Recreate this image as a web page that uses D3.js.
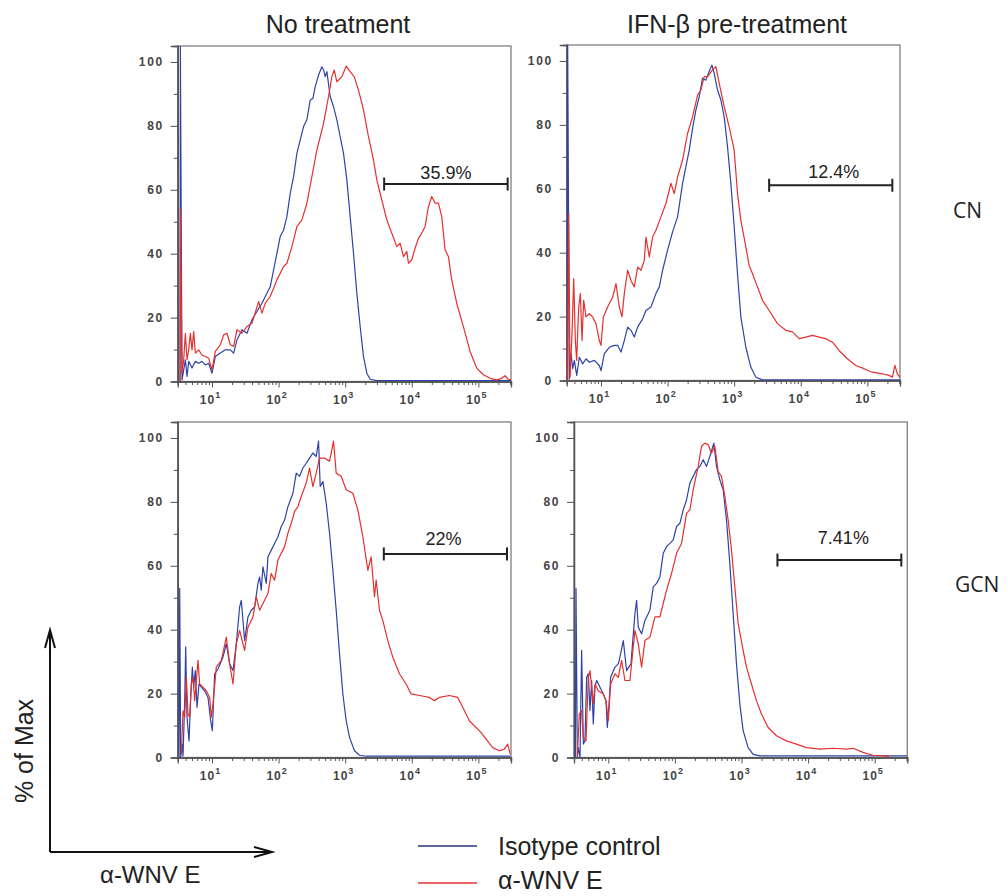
<!DOCTYPE html>
<html>
<head>
<meta charset="utf-8">
<script src="https://cdn.jsdelivr.net/npm/d3@7"></script>
<style>
  html, body { margin: 0; padding: 0; background: #fff; }
  svg { display: block; }
  text { font-family: "Liberation Sans", Arial, sans-serif; fill: #222; }
</style>
</head>
<body>
<svg id="chart" width="1008" height="896"></svg>
<script>
// ---------------- DATA ----------------
// Columns (treatments) and rows (cell types)
const columnTitles = ["No treatment", "IFN-β pre-treatment"];
const rowLabels = ["CN", "GCN"];
const seriesNames = ["Isotype control", "α-WNV E"];
const yTickValues = [0, 20, 40, 60, 80, 100];
const yMinorTickValues = [10, 30, 50, 70, 90];
const xDecadeExponents = [1, 2, 3, 4, 5];
const xExponentDomain = [0.485, 5.49];
const yDomain = [0, 105];

// Histogram traces: [log10(fluorescence), % of Max]
const cnNoTreatIsotype = [[0.52,0],[0.525,105],[0.55,0.5],[0.575,3.6],[0.6,6.8],[0.625,1.6],[0.65,6.3],[0.7,4.2],[0.75,6.3],[0.8,5.7],[0.85,6.3],[0.9,5.2],[0.95,5.7],[1.0,2.6],[1.05,7.8],[1.125,8.9],[1.2,9.9],[1.275,9.9],[1.325,8.9],[1.375,13],[1.45,16.2],[1.525,15.1],[1.6,19.3],[1.675,21.9],[1.75,24.5],[1.825,27.6],[1.875,29.7],[1.925,34.9],[1.975,40.1],[2.025,45.4],[2.075,47.4],[2.125,51.6],[2.175,58.9],[2.225,64.1],[2.275,71.4],[2.325,75.6],[2.375,79.8],[2.425,81.9],[2.475,88.1],[2.515,88.6],[2.55,92.3],[2.6,95.9],[2.65,98.5],[2.675,97.5],[2.7,95.4],[2.725,97],[2.775,89.2],[2.825,86],[2.875,81.9],[2.925,76.6],[2.975,71.4],[3.025,63.1],[3.075,51.6],[3.125,40.1],[3.175,27.6],[3.225,17.2],[3.275,7.8],[3.325,2.6],[3.375,0.7],[3.475,0.3],[5.49,0.3]];
const cnNoTreatWNV = [[0.52,0],[0.525,54],[0.55,2.6],[0.575,6.8],[0.6,15.1],[0.625,6.8],[0.65,9.9],[0.675,15.1],[0.7,9.9],[0.725,15.6],[0.75,8.9],[0.8,9.9],[0.85,8.3],[0.9,7.8],[0.95,7.3],[1.0,3.6],[1.05,9.4],[1.125,11.5],[1.175,14.6],[1.225,15.1],[1.275,11.5],[1.325,11],[1.375,16.2],[1.45,15.1],[1.525,17.2],[1.6,18.2],[1.7,25],[1.75,21.4],[1.8,24.5],[1.875,26.6],[1.975,31.8],[2.075,36],[2.125,37],[2.2,42.2],[2.275,48.5],[2.35,50.6],[2.425,55.8],[2.5,64.1],[2.575,72.5],[2.625,76.6],[2.675,80.8],[2.75,89.2],[2.8,95.4],[2.835,97.5],[2.875,93.8],[2.95,95.4],[3.015,98.7],[3.075,97],[3.135,95.4],[3.2,91.2],[3.275,85],[3.35,76.6],[3.425,69.3],[3.475,63.1],[3.55,56.8],[3.625,50.6],[3.7,46.4],[3.775,42.2],[3.825,43.3],[3.875,39.1],[3.925,40.7],[3.95,37],[4.0,38.1],[4.05,41.7],[4.1,44.8],[4.15,46.4],[4.2,48.5],[4.25,54.7],[4.3,57.9],[4.35,55.8],[4.4,55.8],[4.45,51.6],[4.5,41.2],[4.55,39.1],[4.6,31.8],[4.675,24.5],[4.775,17.2],[4.875,9.4],[4.975,4.2],[5.075,2.1],[5.175,1],[5.275,0.5],[5.35,1],[5.4,1.8],[5.45,0.7],[5.49,0.5]];
const cnIfnIsotype = [[0.49,0],[0.5,105],[0.525,0.5],[0.55,8.4],[0.575,3.7],[0.6,6.3],[0.635,1.6],[0.675,7.3],[0.725,5.2],[0.775,6.8],[0.825,5.7],[0.9,6.3],[0.975,4.7],[1,3.1],[1.05,8.4],[1.125,10.4],[1.2,11],[1.25,11],[1.3,8.9],[1.35,12.5],[1.4,16.7],[1.45,15.7],[1.5,13.6],[1.55,16.7],[1.625,19.3],[1.675,21.9],[1.75,23],[1.825,27.2],[1.875,29.3],[1.925,34.5],[2,40.8],[2.075,46.5],[2.15,51.2],[2.225,61.7],[2.275,66.9],[2.325,72.1],[2.375,78.9],[2.425,84.6],[2.475,88.8],[2.525,94.6],[2.575,94],[2.625,96.7],[2.665,98.7],[2.7,96.1],[2.75,90.9],[2.8,87.8],[2.85,82.5],[2.9,73.1],[2.95,61.7],[3,48.1],[3.05,33.4],[3.1,19.9],[3.175,10.4],[3.25,4.2],[3.325,1],[3.425,0.2],[5.49,0.2]];
const cnIfnWNV = [[0.5,0],[0.515,52.2],[0.535,1],[0.565,14.6],[0.59,31.9],[0.615,12.5],[0.635,6.3],[0.665,23],[0.69,27.2],[0.715,12.5],[0.74,25.1],[0.775,19.9],[0.825,20.9],[0.875,19.9],[0.925,17.8],[0.975,12.5],[1,11],[1.035,19.9],[1.1,23],[1.175,26.1],[1.225,30.3],[1.275,23],[1.315,19.9],[1.35,27.2],[1.4,34.5],[1.45,31.3],[1.5,29.3],[1.55,35.5],[1.6,34.5],[1.65,37.6],[1.675,44.9],[1.725,38.7],[1.775,44.9],[1.825,47],[1.9,51.2],[1.975,55.4],[2.05,61.7],[2.1,58.5],[2.15,63.7],[2.225,69],[2.3,77.3],[2.375,82.5],[2.45,89.3],[2.5,90.9],[2.55,95.1],[2.6,95.1],[2.675,97.2],[2.725,98.2],[2.775,93],[2.85,85.7],[2.925,79.4],[3,72.1],[3.05,58.5],[3.1,50.2],[3.175,41.8],[3.225,36],[3.275,33.4],[3.35,29.3],[3.425,25.1],[3.525,21.9],[3.65,17.8],[3.775,15.7],[3.875,15.2],[3.975,13.1],[4.075,13.6],[4.175,14.1],[4.275,13.6],[4.375,13.1],[4.475,12],[4.575,9.4],[4.7,6.8],[4.825,4.7],[4.95,3.7],[5.075,2.6],[5.225,2.1],[5.325,1.6],[5.375,1],[5.415,4.7],[5.45,2.1],[5.49,1]];
const gcnNoTreatIsotype = [[0.505,0],[0.515,52.9],[0.53,0],[0.55,4.2],[0.565,0.5],[0.59,17.8],[0.605,34.6],[0.625,12.6],[0.655,5.2],[0.68,18.8],[0.705,28.3],[0.725,22],[0.75,27.2],[0.775,15.7],[0.805,23],[0.84,22],[0.89,20.9],[0.94,18.8],[0.98,11.5],[1.005,8.4],[1.04,26.2],[1.09,27.7],[1.165,31.4],[1.215,35.6],[1.265,29.3],[1.315,27.2],[1.365,35.6],[1.415,47.1],[1.44,49.2],[1.49,36.6],[1.54,44],[1.59,46.1],[1.64,47.1],[1.69,54.5],[1.715,56.5],[1.74,52.4],[1.765,59.7],[1.815,54.5],[1.84,62.8],[1.89,64.9],[1.94,67],[1.99,69.1],[2.04,72.3],[2.09,74.3],[2.14,78.5],[2.215,82.7],[2.265,89],[2.315,88],[2.365,90.6],[2.415,92.1],[2.465,93.7],[2.515,95.3],[2.565,94.2],[2.6,99],[2.625,84.8],[2.665,86.4],[2.715,79.6],[2.765,70.2],[2.815,58.6],[2.865,46.1],[2.915,32.5],[2.965,19.9],[3.015,11.5],[3.065,6.3],[3.14,2.1],[3.215,0.7],[3.315,0.4],[5.48,0.4]];
const gcnNoTreatWNV = [[0.54,1],[0.565,14.7],[0.59,12.6],[0.615,25.1],[0.64,13.6],[0.665,12.6],[0.69,23],[0.715,25.1],[0.74,17.8],[0.765,24.1],[0.79,30.4],[0.815,23],[0.865,22],[0.915,20.9],[0.965,18.8],[0.99,12.6],[1.015,16.8],[1.065,28.3],[1.14,30.4],[1.215,37.7],[1.265,29.3],[1.315,23],[1.365,35.6],[1.415,39.8],[1.49,33.5],[1.54,40.8],[1.615,44],[1.665,50.3],[1.715,46.1],[1.765,48.2],[1.84,51.3],[1.89,57.6],[1.94,55.5],[1.99,61.8],[2.04,63.9],[2.09,66],[2.14,70.2],[2.19,73.3],[2.24,77],[2.29,78.5],[2.34,81.7],[2.415,85.9],[2.465,90.6],[2.515,84.8],[2.565,89],[2.615,93.7],[2.69,93.7],[2.765,92.7],[2.825,99],[2.865,89],[2.94,88],[3.015,83.8],[3.115,82.7],[3.19,77.5],[3.265,69.1],[3.34,58.6],[3.39,62.8],[3.44,50.3],[3.465,55.5],[3.515,46.1],[3.565,42.9],[3.64,36.6],[3.715,31.4],[3.815,26.2],[3.915,23],[3.99,19.9],[4.115,19.4],[4.265,18.8],[4.34,17.8],[4.415,18.8],[4.565,19.4],[4.69,18.8],[4.765,15.7],[4.865,11.5],[4.965,9.4],[5.015,8.4],[5.115,5.8],[5.215,3.1],[5.315,2.1],[5.39,2.6],[5.44,4.2],[5.48,1]];
const gcnIfnIsotype = [[0.505,0],[0.515,52.9],[0.535,0],[0.55,3.1],[0.575,0],[0.6,33.5],[0.625,4.2],[0.65,5.2],[0.675,25.1],[0.7,26.2],[0.725,14.7],[0.75,24.1],[0.775,10.5],[0.8,22],[0.825,24.1],[0.875,22],[0.925,19.9],[0.965,17.8],[0.985,9.4],[1.005,14.7],[1.035,25.1],[1.1,28.3],[1.15,29.3],[1.175,31.4],[1.225,36.6],[1.275,27.2],[1.34,29.3],[1.4,45],[1.425,49.2],[1.45,40.8],[1.5,38.7],[1.55,42.9],[1.625,46.1],[1.675,53.4],[1.725,54.5],[1.775,56.5],[1.825,63.9],[1.875,66],[1.925,67],[1.975,68.1],[2.025,72.3],[2.075,73.3],[2.125,77.5],[2.175,80.6],[2.225,85.9],[2.275,88],[2.325,90.1],[2.375,91.1],[2.425,93.2],[2.475,91.1],[2.525,94.2],[2.585,98.4],[2.625,91.1],[2.675,86.9],[2.725,83.8],[2.775,74.3],[2.825,60.7],[2.875,45],[2.925,29.3],[2.975,16.8],[3.025,8.4],[3.1,3.1],[3.175,1],[3.275,0.5],[5.49,0.5]];
const gcnIfnWNV = [[0.535,0.5],[0.565,13.6],[0.6,14.7],[0.625,6.3],[0.665,5.2],[0.7,25.1],[0.725,27.2],[0.75,22],[0.775,16.8],[0.8,23],[0.85,20.9],[0.925,19.9],[0.965,17.8],[1,11.5],[1.035,23],[1.1,26.2],[1.15,25.1],[1.2,30.4],[1.25,24.1],[1.325,24.1],[1.4,39.8],[1.45,35.6],[1.5,28.3],[1.55,36.6],[1.625,37.7],[1.7,44],[1.775,44],[1.825,48.2],[1.875,52.4],[1.95,57.6],[2.025,63.9],[2.1,67],[2.175,76.4],[2.225,77.5],[2.275,83.8],[2.35,91.1],[2.4,97.4],[2.45,98.4],[2.5,97.9],[2.55,95.3],[2.6,97.4],[2.65,89.5],[2.7,88],[2.75,81.7],[2.8,74.3],[2.85,64.9],[2.9,53.4],[2.95,41.9],[3.025,33.5],[3.075,28.3],[3.15,23],[3.225,17.8],[3.3,13.6],[3.4,9.4],[3.525,6.8],[3.675,5.2],[3.825,4.2],[3.975,3.1],[4.175,2.6],[4.375,2.9],[4.575,2.6],[4.675,2.9],[4.825,1.6],[4.975,0.7],[5.175,0.5],[5.225,0]];

// Gates: [start exponent, end exponent, level %] and percentages
const gateRanges = [[3.585, 5.44, 61.8], [3.525, 5.375, 61.1], [3.58, 5.43, 63.7], [3.54, 5.4, 61.8]];
const gateLabels = ["35.9%", "12.4%", "22%", "7.41%"];

// ---------------- LAYOUT ----------------
const panelW = 333.3, panelH = 335.5;
const panels = [
  { x: 177.7, y: 46,  iso: cnNoTreatIsotype,  wnv: cnNoTreatWNV,  gate: 0, ldx: 0,  ldy: 5 },
  { x: 566.7, y: 45,  iso: cnIfnIsotype,      wnv: cnIfnWNV,      gate: 1, ldx: 3,  ldy: 7 },
  { x: 177.7, y: 422, iso: gcnNoTreatIsotype, wnv: gcnNoTreatWNV, gate: 2, ldx: -2, ldy: 9 },
  { x: 574,   y: 422, iso: gcnIfnIsotype,     wnv: gcnIfnWNV,     gate: 3, ldx: 4,  ldy: 16 }
];
const blue = "#2e43a6", red = "#e5302e";

const svg = d3.select("#chart");
const x = d3.scaleLog().domain(xExponentDomain.map(e => Math.pow(10, e))).range([0, panelW]);
const y = d3.scaleLinear().domain(yDomain).range([panelH, 0]);

const line = d3.line()
  .x(d => x(Math.pow(10, d[0])))
  .y(d => y(d[1]));

const defs = svg.append("defs");
defs.append("clipPath").attr("id", "pclip")
  .append("rect").attr("x", 0).attr("y", 0).attr("width", panelW).attr("height", panelH);

// minor x ticks
const xMinor = [];
for (let e = 0; e <= 5; e++) for (let m = 2; m <= 9; m++) {
  const v = m * Math.pow(10, e);
  if (v >= x.domain()[0] && v <= x.domain()[1]) xMinor.push(v);
}
const xMajor = xDecadeExponents.map(e => Math.pow(10, e));

panels.forEach((p, i) => {
  const g = svg.append("g").attr("transform", `translate(${p.x},${p.y})`);

  // frame
  g.append("rect").attr("width", panelW).attr("height", panelH)
    .attr("fill", "none").attr("stroke", "#808080").attr("stroke-width", 1.3);

  // y axis
  const yMaj = g.append("g").call(d3.axisLeft(y).tickValues(yTickValues).tickSize(7).tickFormat(""));
  const yMin = g.append("g").call(d3.axisLeft(y).tickValues(yMinorTickValues).tickSize(4).tickFormat(""));
  [yMaj, yMin].forEach(a => { a.select(".domain").attr("stroke", "#555").attr("stroke-width", 1.3); a.selectAll(".tick line").attr("stroke", "#555"); });
  g.selectAll(".ylab").data(yTickValues).join("text")
    .attr("class", "ylab")
    .attr("x", -14).attr("y", d => y(d)).attr("dy", "0.36em")
    .attr("text-anchor", "end")
    .attr("font-size", 12).attr("font-weight", "bold").attr("letter-spacing", 1.6)
    .style("fill", "#444")
    .text(d => d);

  // x axis
  const xa = g.append("g").attr("transform", `translate(0,${panelH})`);
  const xMajAx = xa.append("g").call(d3.axisBottom(x).tickValues(xMajor).tickSize(6).tickFormat(""));
  const xMinAx = xa.append("g").call(d3.axisBottom(x).tickValues(xMinor).tickSize(3.5).tickFormat(""));
  [xMajAx, xMinAx].forEach(a => { a.select(".domain").attr("stroke", "#555").attr("stroke-width", 1.3); a.selectAll(".tick line").attr("stroke", "#555"); });
  const xl = xa.selectAll(".xlab").data(xDecadeExponents).join("text")
    .attr("class", "xlab")
    .attr("x", d => x(Math.pow(10, d)) - 2).attr("y", 22)
    .attr("text-anchor", "middle")
    .attr("font-size", 12).attr("font-weight", "bold")
    .style("fill", "#444");
  xl.append("tspan").attr("letter-spacing", 1).text("10");
  xl.append("tspan").attr("dy", -6).attr("font-size", 9).text(d => d);

  // curves
  const cg = g.append("g").attr("clip-path", "url(#pclip)");
  cg.append("path").datum(p.iso).attr("d", line)
    .attr("fill", "none").attr("stroke", blue).attr("stroke-width", 1.2).attr("stroke-linejoin", "round");
  cg.append("path").datum(p.wnv).attr("d", line)
    .attr("fill", "none").attr("stroke", red).attr("stroke-width", 1.2).attr("stroke-linejoin", "round");

  // gate
  const gr = gateRanges[p.gate];
  const gx0 = x(Math.pow(10, gr[0])), gx1 = x(Math.pow(10, gr[1])), gy = y(gr[2]);
  const gg = g.append("g").attr("stroke", "#222").attr("stroke-width", 2);
  gg.append("line").attr("x1", gx0).attr("x2", gx1).attr("y1", gy).attr("y2", gy);
  gg.append("line").attr("x1", gx0).attr("x2", gx0).attr("y1", gy - 6.5).attr("y2", gy + 6.5);
  gg.append("line").attr("x1", gx1).attr("x2", gx1).attr("y1", gy - 6.5).attr("y2", gy + 6.5);
  g.append("text")
    .attr("x", (gx0 + gx1) / 2 + p.ldx).attr("y", gy - p.ldy)
    .attr("text-anchor", "middle").attr("font-size", 18)
    .style("fill", "#222")
    .text(gateLabels[p.gate]);
});

// column titles
const titlePos = [[338, 33], [737, 33]];
svg.selectAll(".ctitle").data(columnTitles).join("text")
  .attr("class", "ctitle")
  .attr("x", (d, i) => titlePos[i][0]).attr("y", (d, i) => titlePos[i][1])
  .attr("text-anchor", "middle").attr("font-size", 25)
  .text(d => d);

// row labels
const rowPos = [[953, 218], [955, 592]];
svg.selectAll(".rlabel").data(rowLabels).join("text")
  .attr("class", "rlabel")
  .attr("x", (d, i) => rowPos[i][0]).attr("y", (d, i) => rowPos[i][1])
  .style("font-family", "'Open Sans', 'Noto Sans', sans-serif")
  .attr("font-size", 21)
  .text(d => d);

// axis arrows (bottom-left)
const ax = svg.append("g").attr("stroke", "#111").attr("stroke-width", 2).attr("fill", "none");
ax.append("path").attr("d", "M50,852 L50,631");
ax.append("path").attr("d", "M45,648 L50,630 L55,648");
ax.append("path").attr("d", "M50,852 L271,852");
ax.append("path").attr("d", "M254,847 L272,852 L254,857");
svg.append("text")
  .attr("transform", "translate(33,751) rotate(-90)")
  .attr("text-anchor", "middle").attr("font-size", 25)
  .text("% of Max");
svg.append("text")
  .attr("x", 100).attr("y", 883).attr("font-size", 24)
  .text("α-WNV E");

// legend
const legY = [846, 883];
const legTextY = [855, 889];
const legColors = ["#2a347f", red];
const lg = svg.selectAll(".leg").data(seriesNames).join("g").attr("class", "leg");
lg.append("line")
  .attr("x1", 418).attr("x2", 477)
  .attr("y1", (d, i) => legY[i]).attr("y2", (d, i) => legY[i])
  .attr("stroke", (d, i) => legColors[i]).attr("stroke-width", 1.6);
lg.append("text")
  .attr("x", 498).attr("y", (d, i) => legTextY[i])
  .attr("font-size", 25)
  .text(d => d);
</script>
</body>
</html>
